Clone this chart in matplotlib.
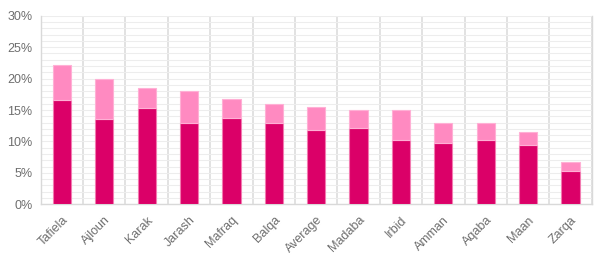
import matplotlib
matplotlib.use("Agg")
import matplotlib.pyplot as plt
import numpy as np
from matplotlib.ticker import MultipleLocator, FuncFormatter

categories = ["Tafiela", "Ajloun", "Karak", "Jarash", "Mafraq", "Balqa", "Average",
              "Madaba", "Irbid", "Amman", "Aqaba", "Maan", "Zarqa"]
base_values = [16.6, 13.5, 15.3, 12.9, 13.7, 12.9, 11.8, 12.1, 10.2, 9.7, 10.3, 9.4, 5.25]
total_values = [22.1, 20.0, 18.45, 18.1, 16.7, 16.0, 15.4, 14.95, 14.95, 12.9, 12.9, 11.45, 6.8]
top_values = [t - b for t, b in zip(total_values, base_values)]

plt.rcParams['font.family'] = ['Liberation Sans', 'DejaVu Sans']

fig = plt.figure(figsize=(6.06, 2.62), dpi=100)
ax = fig.add_axes([0.0672, 0.2202, 0.9092, 0.7198])

x = np.arange(len(categories))
dark = "#DB0068"
light = "#FF8AC1"
edge = "#F27AB0"
ax.bar(x, base_values, width=0.43, color=dark, edgecolor=edge, linewidth=0.8, zorder=3)
ax.bar(x, top_values, width=0.43, bottom=base_values, color=light, edgecolor="#FFB0D5",
       linewidth=0.8, zorder=3)

ax.set_xlim(-0.5, len(categories) - 0.5)
ax.set_ylim(0, 30)
ax.yaxis.set_major_locator(MultipleLocator(5))
ax.yaxis.set_minor_locator(MultipleLocator(1))
ax.yaxis.set_major_formatter(FuncFormatter(lambda v, p: f"{v:.0f}%"))
ax.grid(axis='y', which='both', color="#EDEDED", linewidth=0.8, zorder=0)

ax.set_xticks(x)
ax.set_xticklabels(categories, rotation=45, ha='right', rotation_mode='anchor')
ax.set_xticks(np.arange(-0.5, len(categories), 1.0), minor=True)
ax.grid(axis='x', which='minor', color="#DDDDDD", linewidth=1.2, zorder=1)
ax.grid(axis='x', which='major', visible=False)

ax.tick_params(axis='both', which='both', length=0, colors="#6E6E6E", labelsize=9)
ax.tick_params(axis='x', pad=7)
ax.tick_params(axis='y', pad=6)
for s in ["top"]:
    ax.spines[s].set_visible(False)
for s in ["left", "right", "bottom"]:
    ax.spines[s].set_color("#D9D9D9")
    ax.spines[s].set_linewidth(1.0)

fig.savefig("out.png", dpi=100)
